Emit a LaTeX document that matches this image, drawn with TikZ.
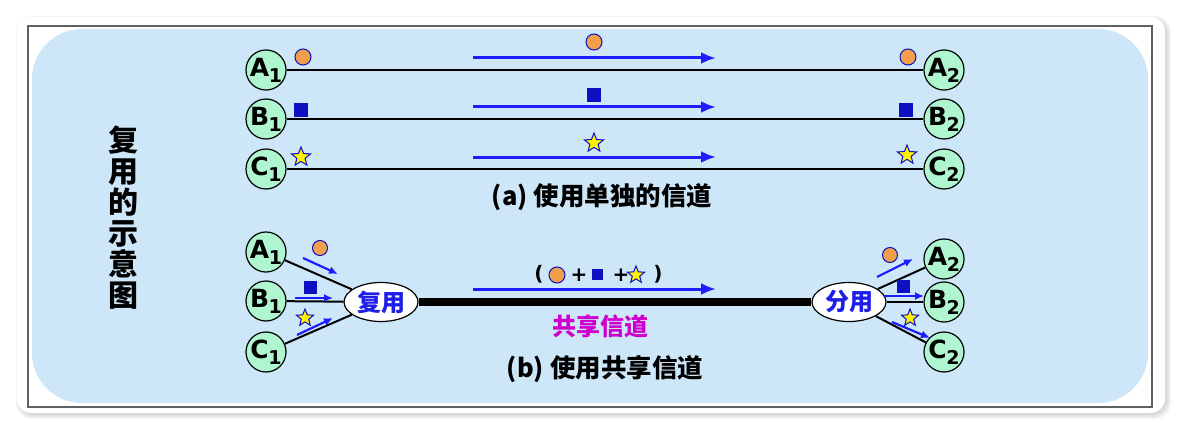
\documentclass[tikz,border=0pt]{standalone}
\usepackage{fontspec}
\setmainfont{DejaVu Sans}
\newfontfamily\cjk{Noto Sans CJK SC}
\usetikzlibrary{shapes.geometric,arrows.meta}

\definecolor{bgblue}{RGB}{205,230,248}
\definecolor{stagreen}{RGB}{175,245,207}
\definecolor{flowblue}{RGB}{30,30,250}
\definecolor{symblue}{RGB}{15,15,195}
\definecolor{dotorange}{RGB}{240,160,75}
\definecolor{muxblue}{RGB}{30,30,230}
\definecolor{sharemag}{RGB}{205,0,205}

\newcommand{\stalabel}[2]{\bfseries\fontsize{25}{25}\selectfont #1\kern-0.5pt\raisebox{-6pt}{\fontsize{19}{19}\selectfont #2}}

\tikzset{
  station/.style={circle,draw,line width=1.2pt,fill=stagreen,minimum size=40pt,inner sep=0pt},
  dot/.style={circle,draw=symblue,line width=1pt,fill=dotorange,minimum size=16pt,inner sep=0pt},
  blk/.style={rectangle,fill=symblue,minimum size=14pt,inner sep=0pt},
  starmark/.style={star,star points=5,star point ratio=2.3,draw=symblue,line width=1pt,fill=yellow,minimum size=20pt,inner sep=0pt},
  link/.style={line width=2pt},
  trunk/.style={line width=8pt},
  flow/.style={draw=flowblue,line width=3pt,-{Latex[length=15pt,width=12pt]}},
  subflow/.style={draw=flowblue,line width=2.2pt,-{Latex[length=9pt,width=8pt]}},
  mux/.style={ellipse,draw,line width=1.2pt,fill=white,minimum width=74pt,minimum height=39pt,inner sep=1pt,text=muxblue,font=\cjk\bfseries\fontsize{24}{24}\selectfont},
  caption/.style={font=\cjk\bfseries\fontsize{25.5}{25.5}\selectfont},
  sumtext/.style={font=\bfseries\fontsize{20}{20}\selectfont,inner sep=0pt}
}

\begin{document}
\begin{tikzpicture}[x=1pt,y=-1pt]
\useasboundingbox (0,0) rectangle (1183,433);
% frame
\foreach \k in {1,...,6}
  \fill[black,opacity=0.03,rounded corners=16] (17-\k/2+2,17-\k/2+2) rectangle (1165+\k,413+\k);
\fill[white,rounded corners=14] (17,17) rectangle (1165,413);
\draw[gray!75!black,line width=1.5pt] (28,26) rectangle (1152,407);
\fill[bgblue,rounded corners=50] (32,29) rectangle (1148,403);

\node[font=\cjk\bfseries\fontsize{30}{31}\selectfont,align=center] (title) at (123,218) {复\\用\\的\\示\\意\\图};

% (a) separate channels
\foreach \n/\L/\y in {a/A/70,b/B/119,c/C/169}{
  \node[station] (\n1) at (266,\y) {\stalabel{\L}{1}};
  \node[station] (\n2) at (944,\y) {\stalabel{\L}{2}};
  \draw[link] (\n1) -- (\n2);
  \coordinate (fs\n) at (473,\y-12);
  \coordinate (fe\n) at (716,\y-12);
  \draw[flow] (fs\n) -- (fe\n);
}
\node[dot] (ad1) at (303,57) {};
\node[dot] (ad2) at (594,42) {};
\node[dot] (ad3) at (908,57) {};
\node[blk] (bs1) at (301,110) {};
\node[blk] (bs2) at (594,95) {};
\node[blk] (bs3) at (906,110) {};
\node[starmark] (cs1) at (301,157) {};
\node[starmark] (cs2) at (594,143) {};
\node[starmark] (cs3) at (907,155) {};
\node[caption] (capa) at (602,197) {(a) 使用单独的信道};

% (b) shared channel
\node[station] (ma1) at (266,252) {\stalabel{A}{1}};
\node[station] (mb1) at (266,301) {\stalabel{B}{1}};
\node[station] (mc1) at (266,352) {\stalabel{C}{1}};
\node[station] (da2) at (944,259) {\stalabel{A}{2}};
\node[station] (db2) at (944,302) {\stalabel{B}{2}};
\node[station] (dc2) at (944,352) {\stalabel{C}{2}};
\node[mux] (mux) at (381,302) {复用};
\node[mux] (demux) at (849,302) {分用};
\draw[link] (ma1) -- (mux);
\draw[link] (mb1) -- (mux);
\draw[link] (mc1) -- (mux);
\draw[link] (demux) -- (da2);
\draw[link] (demux) -- (db2);
\draw[link] (demux) -- (dc2);
\draw[trunk] (mux) -- (demux);

\coordinate (ia0) at (303,258); \coordinate (ia1) at (338,274);
\coordinate (ib0) at (295,298); \coordinate (ib1) at (333,298);
\coordinate (ic0) at (297,335); \coordinate (ic1) at (333,318);
\coordinate (oa0) at (877,277); \coordinate (oa1) at (913,259);
\coordinate (ob0) at (884,296); \coordinate (ob1) at (924,296);
\coordinate (oc0) at (892,322); \coordinate (oc1) at (930,338);
\foreach \p in {ia,ib,ic,oa,ob,oc}
  \draw[subflow] (\p0) -- (\p1);
\node[dot,minimum size=15pt] (md1) at (320,248) {};
\node[blk,minimum size=13pt] (ms1) at (310,287) {};
\node[starmark,minimum size=18pt] (mt1) at (305,318) {};
\node[dot,minimum size=15pt] (dd2) at (890,255) {};
\node[blk,minimum size=13pt] (ds2) at (903,286) {};
\node[starmark,minimum size=18pt] (dt2) at (910,318) {};

\coordinate (fsm) at (473,289);
\coordinate (fem) at (716,289);
\draw[flow] (fsm) -- (fem);
\node[sumtext] (lp) at (539,274) {(};
\node[dot] (sd) at (557,275) {};
\node[sumtext] (p1) at (579,275) {+};
\node[blk,minimum size=11pt] (sb) at (597,274) {};
\node[sumtext] (p2) at (621,275) {+};
\node[starmark,minimum size=18pt] (ss) at (636,275) {};
\node[sumtext] (rp) at (658,274) {)};
\node[caption,text=sharemag,font=\cjk\bfseries\fontsize{24}{24}\selectfont] (share) at (600,326) {共享信道};
\node[caption] (capb) at (605,369) {(b) 使用共享信道};
\end{tikzpicture}
\end{document}
